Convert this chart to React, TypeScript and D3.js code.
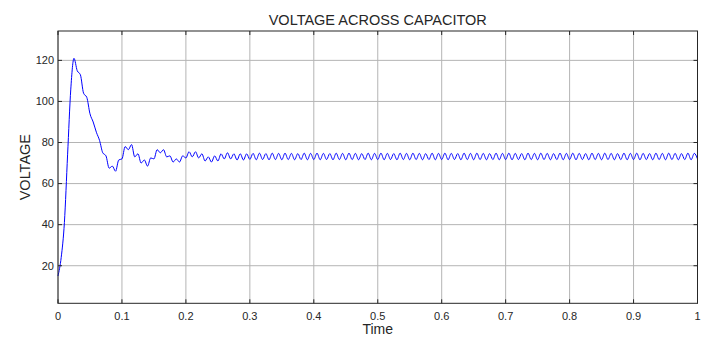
import * as d3 from 'd3';

// sample grid: one value every 5 ms from 0 to 1 s
const SAMPLE_STEP = 0.005;

// capacitor voltage, one entry per sample
const voltage: number[] = [
    15, 24, 41, 74, 106, 121, 115, 113, 104, 102,
    94, 90, 85, 81, 75, 73.5, 67.5, 68.5, 66, 71.5,
    72, 78, 76.5, 79, 73, 74.5, 70, 71.5, 68.5, 72.5,
    72, 76.5, 75, 76.5, 73, 73.5, 70.5, 72, 70.5, 73.5,
    72.5, 75.5, 73, 75.5, 72.5, 74.5, 71, 73, 70.5, 73.5,
    71, 74.5, 72, 75, 72, 74.5, 71.5, 74.5, 71.5, 74.5,
    71.8, 74.7, 71.6, 74.8, 71.7, 74.6, 71.6, 74.8, 71.7, 74.7,
    71.6, 74.8, 71.7, 74.7, 71.6, 74.6, 71.7, 74.8, 71.6, 74.7,
    71.7, 74.8, 71.6, 74.7, 71.7, 74.6, 71.6, 74.8, 71.7, 74.7,
    71.6, 74.8, 71.7, 74.7, 71.6, 74.6, 71.7, 74.8, 71.6, 74.7,
    71.7, 74.8, 71.6, 74.7, 71.7, 74.6, 71.6, 74.8, 71.7, 74.7,
    71.6, 74.8, 71.7, 74.7, 71.6, 74.6, 71.7, 74.8, 71.6, 74.7,
    71.7, 74.8, 71.6, 74.7, 71.7, 74.6, 71.6, 74.8, 71.7, 74.7,
    71.6, 74.8, 71.7, 74.7, 71.6, 74.6, 71.7, 74.8, 71.6, 74.7,
    71.7, 74.8, 71.6, 74.7, 71.7, 74.6, 71.6, 74.8, 71.7, 74.7,
    71.6, 74.8, 71.7, 74.7, 71.6, 74.6, 71.7, 74.8, 71.6, 74.7,
    71.7, 74.8, 71.6, 74.7, 71.7, 74.6, 71.6, 74.8, 71.7, 74.7,
    71.6, 74.8, 71.7, 74.7, 71.6, 74.6, 71.7, 74.8, 71.6, 74.7,
    71.7, 74.8, 71.6, 74.7, 71.7, 74.6, 71.6, 74.8, 71.7, 74.7,
    71.6, 74.8, 71.7, 74.7, 71.6, 74.6, 71.7, 74.8, 71.6, 74.7,
    72.0,
];

const xTicks = [0, 0.1, 0.2, 0.3, 0.4, 0.5, 0.6, 0.7, 0.8, 0.9, 1];
const yTicks = [20, 40, 60, 80, 100, 120];

const title = 'VOLTAGE ACROSS CAPACITOR';
const xLabel = 'Time';
const yLabel = 'VOLTAGE';

const W = 708;
const H = 338;
const plot = { left: 58, right: 697.5, top: 31, bottom: 303.3 };
const font = '"Liberation Sans", Arial, Helvetica, sans-serif';
const ink = '#262626';
const gridColor = '#b4b4b4';

export default function App() {
    const x = d3.scaleLinear().domain([0, 1]).range([plot.left, plot.right]);
    const y = d3.scaleLinear().domain([1.7, 134.3]).range([plot.bottom, plot.top]);

    const points: [number, number][] = voltage.map((v, i) => [i * SAMPLE_STEP, v]);
    const line = d3.line<[number, number]>()
        .x(d => x(d[0]))
        .y(d => y(d[1]))
        .curve(d3.curveMonotoneX);

    const tick = 4;
    const fmt = d3.format('');

    return (
        <svg width={W} height={H} style={{ position: 'absolute', left: 0, top: 0, background: '#fff' }}
            fontFamily={font}>
            <rect x={0} y={0} width={W} height={H} fill="#fff" />
            {/* grid */}
            {xTicks.map(t => (
                <line key={'gx' + t} x1={x(t)} x2={x(t)} y1={plot.top} y2={plot.bottom}
                    stroke={gridColor} strokeWidth={1} />
            ))}
            {yTicks.map(t => (
                <line key={'gy' + t} x1={plot.left} x2={plot.right} y1={y(t)} y2={y(t)}
                    stroke={gridColor} strokeWidth={1} />
            ))}

            {/* trace */}
            <path d={line(points) || ''} fill="none" stroke="#0000ff" strokeWidth={1} />

            {/* box */}
            <rect x={plot.left} y={plot.top} width={plot.right - plot.left} height={plot.bottom - plot.top}
                fill="none" stroke={ink} strokeWidth={1} />

            {/* inward ticks on all sides */}
            {xTicks.map(t => (
                <g key={'tx' + t}>
                    <line x1={x(t)} x2={x(t)} y1={plot.bottom} y2={plot.bottom - tick} stroke={ink} />
                    <line x1={x(t)} x2={x(t)} y1={plot.top} y2={plot.top + tick} stroke={ink} />
                    <text x={x(t)} y={320} textAnchor="middle" fontSize={11} fill={ink}>{fmt(t)}</text>
                </g>
            ))}
            {yTicks.map(t => (
                <g key={'ty' + t}>
                    <line x1={plot.left} x2={plot.left + tick} y1={y(t)} y2={y(t)} stroke={ink} />
                    <line x1={plot.right} x2={plot.right - tick} y1={y(t)} y2={y(t)} stroke={ink} />
                    <text x={54} y={y(t)} dy="0.35em" textAnchor="end" fontSize={11} fill={ink}>{t}</text>
                </g>
            ))}

            <text x={(plot.left + plot.right) / 2} y={25} textAnchor="middle" fontSize={14.5} fill={ink}>{title}</text>
            <text x={(plot.left + plot.right) / 2} y={334} textAnchor="middle" fontSize={14} fill={ink}>{xLabel}</text>
            <text transform={`translate(30,${(plot.top + plot.bottom) / 2}) rotate(-90)`} textAnchor="middle"
                fontSize={14.5} fill={ink}>{yLabel}</text>
        </svg>
    );
}
